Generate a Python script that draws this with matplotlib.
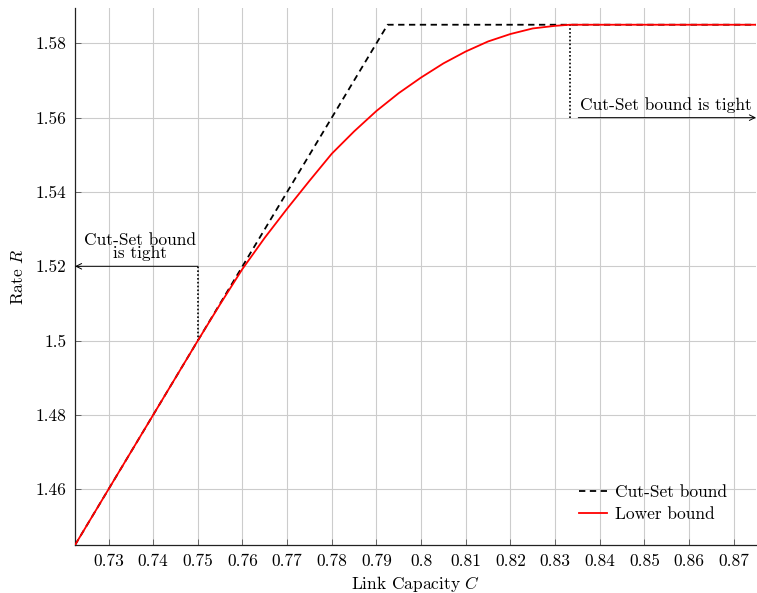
import numpy as np
import matplotlib.pyplot as plt

plt.rcParams['font.family'] = 'cmr10'
plt.rcParams['mathtext.fontset'] = 'cm'
plt.rcParams['axes.formatter.use_mathtext'] = True

# cut-set bound: R = 2C until it saturates at 1.585
cutset_C = [0.7225, 0.7925, 0.875]
cutset_R = [1.445, 1.585, 1.585]

# achievable rate (lower bound)
lower_C = [0.7225, 0.75, 0.755, 0.76, 0.765, 0.77, 0.775, 0.78, 0.785, 0.79,
           0.795, 0.80, 0.805, 0.81, 0.815, 0.82, 0.825, 0.83, 0.8333, 0.875]
lower_R = [1.445, 1.50, 1.5098, 1.5193, 1.5277, 1.5355, 1.5430, 1.5503, 1.5563, 1.5618,
           1.5666, 1.5708, 1.5746, 1.5778, 1.5805, 1.5825, 1.5840, 1.5847, 1.585, 1.585]

# points where the two bounds separate / meet again
tight_left = (0.75, 1.50)
tight_right = (0.8333, 1.585)

xticks = [0.73, 0.74, 0.75, 0.76, 0.77, 0.78, 0.79, 0.80, 0.81, 0.82, 0.83, 0.84, 0.85, 0.86, 0.87]
yticks = [1.46, 1.48, 1.50, 1.52, 1.54, 1.56, 1.58]
xticklabels = ['0.73', '0.74', '0.75', '0.76', '0.77', '0.78', '0.79', '0.8',
               '0.81', '0.82', '0.83', '0.84', '0.85', '0.86', '0.87']
yticklabels = ['1.46', '1.48', '1.5', '1.52', '1.54', '1.56', '1.58']

fs = 12.5

fig = plt.figure(figsize=(7.57, 5.93), dpi=100)
ax = fig.add_axes([0.0991, 0.0809, 0.8996, 0.9056])

ax.plot(cutset_C, cutset_R, color='black', lw=1.3, dashes=(3.5, 2.5), label='Cut-Set bound', zorder=3)
ax.plot(lower_C, lower_R, color='red', lw=1.3, label='Lower bound', zorder=4)

# dotted markers and arrows for the regions where the cut-set bound is tight
ax.plot([tight_left[0], tight_left[0]], [tight_left[1], 1.52], color='black', lw=1.2,
        linestyle=(0, (1, 1.3)), zorder=3)
ax.plot([tight_right[0], tight_right[0]], [1.56, tight_right[1]], color='black', lw=1.2,
        linestyle=(0, (1, 1.3)), zorder=3)

ax.annotate('', xy=(0.7225, 1.52), xytext=(tight_left[0], 1.52),
            arrowprops=dict(arrowstyle='->', lw=0.7, color='black', shrinkA=0, shrinkB=0))
ax.annotate('', xy=(0.875, 1.56), xytext=(0.8352, 1.56),
            arrowprops=dict(arrowstyle='->', lw=0.7, color='black', shrinkA=0, shrinkB=0))
ax.text(0.737, 1.5215, 'Cut-Set bound\nis tight', ha='center', va='bottom',
        fontsize=fs, linespacing=0.8)
ax.text(0.8548, 1.5612, 'Cut-Set bound is tight', ha='center', va='bottom', fontsize=fs)

ax.set_xlim(0.7225, 0.875)
ax.set_ylim(1.445, 1.5895)
ax.set_xticks(xticks)
ax.set_xticklabels(xticklabels)
ax.set_yticks(yticks)
ax.set_yticklabels(yticklabels)
ax.tick_params(direction='in', length=4, width=0.6, color='#555555', labelsize=fs, pad=6)
ax.grid(True, color='#cccccc', lw=0.8)
ax.set_axisbelow(True)

for side in ['top', 'right']:
    ax.spines[side].set_visible(False)
for side in ['left', 'bottom']:
    ax.spines[side].set_linewidth(0.9)
    ax.spines[side].set_color('#222222')

ax.set_xlabel('Link Capacity $C$', fontsize=fs, labelpad=4)
ax.set_ylabel('Rate $R$', fontsize=fs, labelpad=7)

leg = ax.legend(loc='lower right', bbox_to_anchor=(0.98, 0.014), frameon=False, fontsize=fs,
                handlelength=1.6, handletextpad=0.45, labelspacing=0.35)

fig.savefig('out.png', dpi=100)
